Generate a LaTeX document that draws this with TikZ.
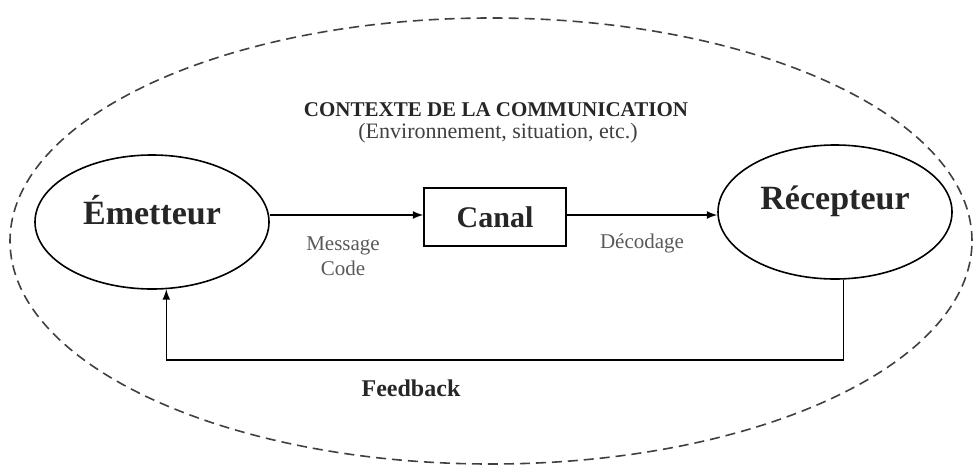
\documentclass[tikz,border=0pt]{standalone}
\usepackage{fontspec}
\setmainfont{Liberation Serif}
\usetikzlibrary{shapes}
\usetikzlibrary{positioning}

\begin{document}
\begin{tikzpicture}[x=0.5pt,y=-0.5pt,thick,>=latex]
      \tikzstyle{every node}=[inner sep=0pt,text=black!85]
      \tikzstyle{agent}=[draw,ellipse,minimum width=117pt,minimum height=67pt]
      \tikzstyle{canalbox}=[draw,rectangle,minimum width=71pt,minimum height=29pt,font=\fontsize{15}{17}\selectfont\bfseries]
      \tikzstyle{bigname}=[font=\fontsize{17}{19}\selectfont\bfseries]
      \tikzstyle{small}=[font=\fontsize{10.5}{12.5}\selectfont,text=black!65,align=center]
      \useasboundingbox (0,0) rectangle (977,471);
      % 
      \node [draw,ellipse,dash pattern=on 5pt off 3pt,black!75,minimum width=481pt,minimum height=223pt] (ctx) at (491,241) {};
      \node [font=\fontsize{10.5}{12}\selectfont\bfseries] (title) at (496,110) {CONTEXTE DE LA COMMUNICATION};
      \node [font=\fontsize{11}{13}\selectfont,text=black!75] (sub) at (498,133) {(Environnement, situation, etc.)};
      % 
      \node [agent] (em) at (152,222) {};
      \node [bigname] (emname) at (152,210) {Émetteur};
      \node [canalbox] (canal) at (495,217) {Canal};
      \node [agent] (rec) at (835,212) {};
      \node [bigname] (recname) at (835,201) {Récepteur};
      % 
      \node [small] (msg) at (343,256) {Message\\Code};
      \node [small] (dec) at (642,243) {Décodage};
      \node [font=\fontsize{12}{14}\selectfont\bfseries] (fbname) at (411,388) {Feedback};
      \coordinate (fb) at (500,360);
      % 
      \draw[->] (em.east |- 0,215) -- (canal.west |- 0,215);
      \draw[->] (canal.east |- 0,215) -- (rec.west |- 0,215);
      \draw[->] (rec.277) |- (fb) -| (em.282);
\end{tikzpicture}
\end{document}
